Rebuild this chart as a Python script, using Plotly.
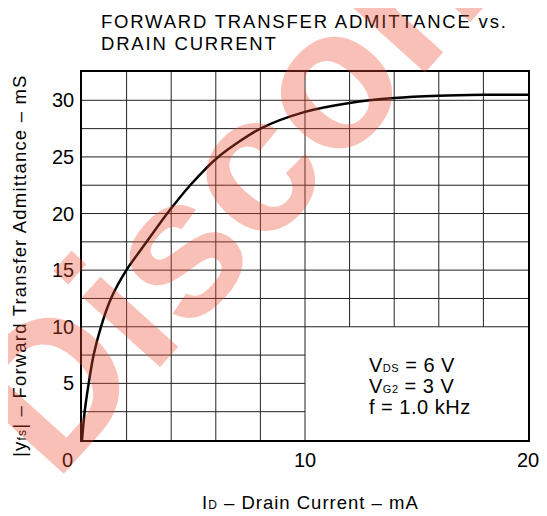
import plotly.graph_objects as go

# curve
drain_current = [0, 0.12, 0.3, 0.52, 0.85, 1.3, 1.99, 2.9, 3.82, 4.85, 6.11, 8.0,
                 10.0, 12.0, 14.0, 16.0, 18.0, 20.0]
admittance = [0, 2.5, 5, 7.5, 10, 12.5, 15, 17.5, 20, 22.5, 25, 27.5,
              28.98, 29.77, 30.2, 30.4, 30.48, 30.5]

x_grid = [2, 4, 6, 8, 10, 12, 14, 16, 18]
y_grid = [2.5, 5, 7.5, 10, 12.5, 15, 17.5, 20, 22.5, 25, 27.5, 30]
y_ticks = [5, 10, 15, 20, 25, 30]
x_ticks = [0, 10, 20]

title_lines = ["FORWARD TRANSFER ADMITTANCE vs.", "DRAIN CURRENT"]
conditions = ["V<span style='font-size:11px'>DS</span> = 6 V",
              "V<span style='font-size:11px'>G2</span> = 3 V",
              "f = 1.0 kHz"]

X_MAX = 20
Y_MAX = 32.5
# conditions box (no grid inside): x 10..20, y 0..10
BOX_X = 10
BOX_Y = 10

FONT = "Arial, Liberation Sans, sans-serif"


def spaced(text, px):
    return "<span style='letter-spacing:{}px'>{}</span>".format(px, text)


fig = go.Figure()

fig.add_trace(
    go.Scatter(
        x=drain_current,
        y=admittance,
        mode="lines",
        line=dict(color="black", width=2.5, shape="spline", smoothing=0.8),
        showlegend=False,
        hoverinfo="skip",
    )
)

# grid lines, skipping the conditions box
grid = dict(color="#222", width=1)
for gx in x_grid:
    y0 = BOX_Y if gx > BOX_X else 0
    fig.add_shape(type="line", xref="x", yref="y", x0=gx, x1=gx, y0=y0, y1=Y_MAX,
                  line=grid, layer="below")
for gy in y_grid:
    x1 = BOX_X if gy < BOX_Y else X_MAX
    fig.add_shape(type="line", xref="x", yref="y", x0=0, x1=x1, y0=gy, y1=gy,
                  line=grid, layer="below")

# tick labels
for v in x_ticks:
    fig.add_annotation(x=v, y=0, xref="x", yref="y", text=str(v), showarrow=False,
                       xanchor="center", yanchor="middle", yshift=-20,
                       xshift=-15 if v == 0 else 0,
                       font=dict(family=FONT, size=20, color="black"))
for v in y_ticks:
    fig.add_annotation(x=0, y=v, xref="x", yref="y", text=str(v), showarrow=False,
                       xanchor="right", yanchor="middle", xshift=-6,
                       font=dict(family=FONT, size=20, color="black"))

# title
for i, line in enumerate(title_lines):
    fig.add_annotation(x=0.038, y=1.136 - i * 0.059, xref="paper", yref="paper",
                       text=spaced(line, 1.8), showarrow=False,
                       xanchor="left", yanchor="middle",
                       font=dict(family=FONT, size=18.5, color="black"))

# axis titles
fig.add_annotation(x=0.513, y=-0.171, xref="paper", yref="paper", showarrow=False,
                   xanchor="center", yanchor="middle",
                   text=spaced("I<span style='font-size:12px'>D</span> – Drain Current – mA", 1.0),
                   font=dict(family=FONT, size=18.5, color="black"))
fig.add_annotation(x=-0.139, y=0.473, xref="paper", yref="paper", showarrow=False,
                   xanchor="center", yanchor="middle", textangle=-90,
                   text=spaced("|y<span style='font-size:12px'>fs</span>| – Forward Transfer Admittance – mS", 1.2),
                   font=dict(family=FONT, size=18.5, color="black"))

# test conditions
for i, line in enumerate(conditions):
    fig.add_annotation(x=12.78, y=6.62 - i * 1.87, xref="x", yref="y",
                       text=spaced(line, 0.5), showarrow=False,
                       xanchor="left", yanchor="middle",
                       font=dict(family=FONT, size=20, color="black"))

# watermark
fig.add_annotation(
    x=0.767, y=1.272, xref="paper", yref="paper", showarrow=False,
    xanchor="center", yanchor="middle",
    text="<b>Discontinued</b>", textangle=-48,
    font=dict(family=FONT, size=198, color="rgba(235,75,45,0.35)"),
)

# the page body adds an 8px offset, so the margins are shifted to compensate
fig.update_layout(
    width=547,
    height=516,
    margin=dict(l=74, r=27, t=64, b=84),
    paper_bgcolor="white",
    plot_bgcolor="white",
    font=dict(family=FONT, size=18, color="black"),
    xaxis=dict(
        range=[0, X_MAX],
        showgrid=False, zeroline=False,
        showticklabels=False, ticks="",
        showline=True, linecolor="black", linewidth=2, mirror=True,
        automargin=False,
    ),
    yaxis=dict(
        range=[0, Y_MAX],
        showgrid=False, zeroline=False,
        showticklabels=False, ticks="",
        showline=True, linecolor="black", linewidth=2, mirror=True,
        automargin=False,
    ),
)

fig.write_html("out.html")
